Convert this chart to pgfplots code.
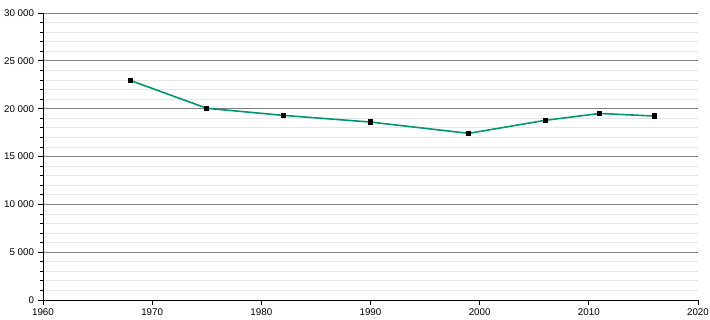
\documentclass[border=0pt]{standalone}
\usepackage{pgfplots}
\pgfplotsset{compat=1.18}
\usepackage{fontspec}
\setmainfont{Liberation Sans}
\definecolor{linegreen}{RGB}{0,150,110}
\definecolor{majgrid}{RGB}{128,128,128}
\definecolor{mingrid}{RGB}{230,230,230}
\begin{document}
\begin{tikzpicture}
\useasboundingbox (-43bp,-20bp) rectangle (667bp,300bp);
\begin{axis}[
  scale only axis,
  width=655bp, height=287bp,
  xmin=1960, xmax=2020, ymin=0, ymax=30000,
  axis x line*=bottom, axis y line*=left,
  xtick={1960,1970,...,2020},
  ytick={0,5000,...,30000},
  minor y tick num=4,
  ymajorgrids, yminorgrids,
  major grid style={majgrid, line width=0.8bp},
  minor grid style={mingrid, line width=0.8bp},
  tick align=outside,
  major tick length=5bp, minor tick length=3bp,
  every tick/.style={black, line width=0.8bp},
  axis line style={black, line width=0.9bp},
  tick label style={font=\fontsize{9.8}{11}\selectfont},
  /pgf/number format/assume math mode=true,
  /pgf/number format/1000 sep={\ },
  xticklabel style={/pgf/number format/1000 sep={}},
  scaled y ticks=false,
  xtick pos=bottom, ytick pos=left,
  yticklabel style={xshift=-0.5bp},
  clip=false,
]
\addplot[linegreen, line width=1.6bp, mark=square*, mark size=1.8bp, mark options={black, fill=black}] coordinates {
  (1968,22950) (1975,20040) (1982,19300) (1990,18600) (1999,17420) (2006,18780) (2011,19500) (2016,19230)
};
\end{axis}
\end{tikzpicture}
\end{document}
